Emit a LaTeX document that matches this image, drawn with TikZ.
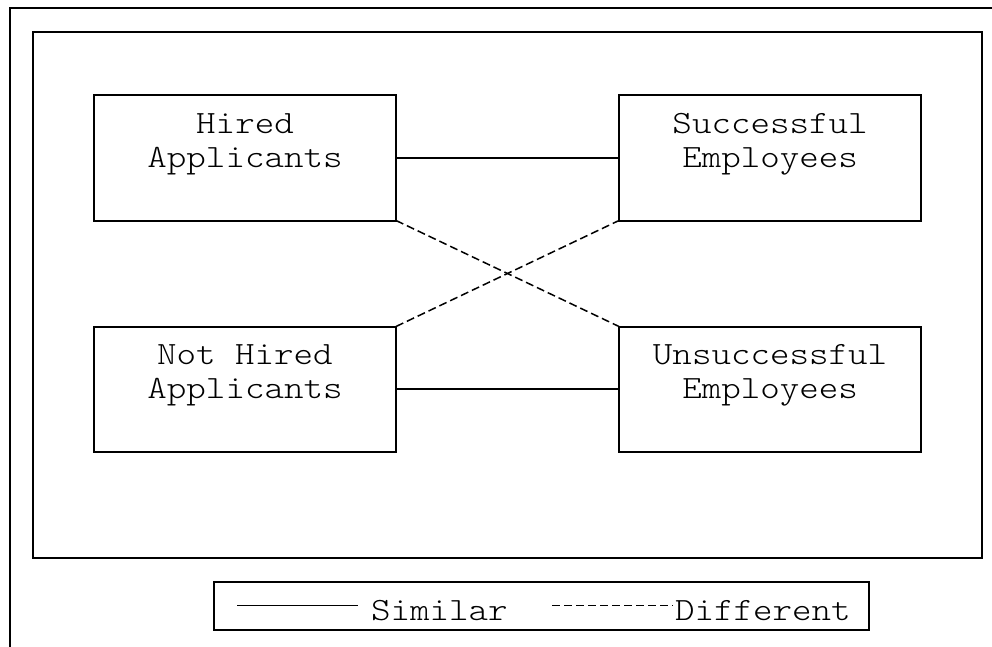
\documentclass[tikz,border=0pt]{standalone}
\usepackage{fontspec}
\setmonofont{Latin Modern Mono Light}[FakeStretch=1.143]
\begin{document}
\begin{tikzpicture}[x=1pt,y=-1pt,
  frame/.style={line width=2pt},
  box/.style={draw,line width=2pt,minimum width=302pt,minimum height=125pt,
    inner sep=0pt,outer sep=0pt},
  lbl/.style={font=\ttfamily\fontsize{32.5}{34}\selectfont,align=center,
    anchor=base,inner sep=0pt},
  legendtext/.style={font=\ttfamily\fontsize{32.5}{34}\selectfont,
    anchor=base west,inner sep=0pt},
  solidlink/.style={line width=1.5pt},
  dashlink/.style={line width=1.5pt,dash pattern=on 8pt off 4pt}]
  \useasboundingbox (0,0) rectangle (992,647);
  \begin{scope}
    \clip (0,0) rectangle (992,647);
    % outer frame, running past the page edges
    \draw[frame] (1010,8.3) -- (10.3,8.3) -- (10.3,670);
  \end{scope}
  % inner frame
  \draw[frame] (33,32.5) rectangle (981.5,558);

  % the four groups
  \node[box] (hired)    at (245,158) {};
  \node[box] (succ)     at (770,158) {};
  \node[box] (nothired) at (245,389) {};
  \node[box] (unsucc)   at (770,389) {};

  % labels (anchored on the baseline of their second line)
  \node[lbl] (hiredT)    at (245,167.5) {Hired\\Applicants};
  \node[lbl] (succT)     at (770,167.5) {Successful\\Employees};
  \node[lbl] (nothiredT) at (245,398.5) {Not Hired\\Applicants};
  \node[lbl] (unsuccT)   at (770,398.5) {Unsuccessful\\Employees};

  % relations
  \draw[solidlink] (hired.east) -- (succ.west);
  \draw[solidlink] (nothired.east) -- (unsucc.west);
  \draw[dashlink] (hired.south east) -- (unsucc.north west);
  \draw[dashlink] (nothired.north east) -- (succ.south west);

  % legend
  \node[draw,line width=2pt,minimum width=655pt,minimum height=48pt,
    inner sep=0pt,outer sep=0pt] (legend) at (541.5,606) {};
  \coordinate (solidA) at (237,605.3);
  \coordinate (solidB) at (358,605.3);
  \coordinate (dashA) at (552,605.3);
  \coordinate (dashB) at (673,605.3);
  \draw[solidlink] (solidA) -- (solidB);
  \node[legendtext] (similar) at (371,620) {Similar};
  \draw[dashlink] (dashA) -- (dashB);
  \node[legendtext] (different) at (675,620) {Different};
\end{tikzpicture}
\end{document}
